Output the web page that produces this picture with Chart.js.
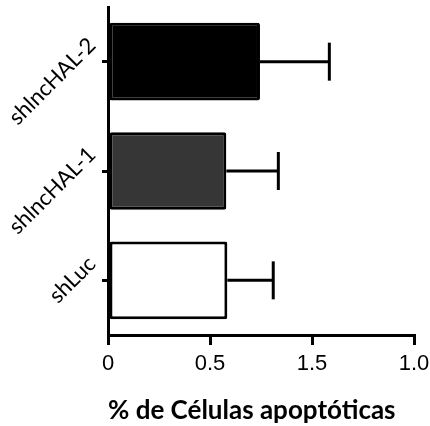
<!DOCTYPE html>
<html>
<head>
<meta charset="utf-8">
<script src="https://cdn.jsdelivr.net/npm/chart.js@4/dist/chart.umd.min.js"></script>
<style>
  html, body { margin: 0; padding: 0; background: #ffffff; }
  #wrap { width: 430px; height: 426px; }
</style>
</head>
<body>
<div id="wrap"><canvas id="c" width="430" height="426"></canvas></div>
<script>
// ---- data ----
const categories = ["shlncHAL-2", "shlncHAL-1", "shLuc"];
const values = [1.49, 1.16, 1.17];          // bar ends, in axis-tick units
const errors = [0.68, 0.51, 0.45];          // error-bar lengths, same units
const xTickLabels = ["0", "0.5", "1.5", "1.0"];
const xTitle = "% de Células apoptóticas";

const barColors = ["#000000", "#363636", "#ffffff"];

const errorBars = {
  id: 'errorBars',
  afterDatasetsDraw(chart) {
    const meta = chart.getDatasetMeta(0);
    const xs = chart.scales.x;
    const ctx = chart.ctx;
    ctx.save();
    ctx.strokeStyle = '#000';
    ctx.lineWidth = 3;
    ctx.lineCap = 'butt';
    meta.data.forEach((bar, i) => {
      const x0 = bar.x;
      const x1 = xs.getPixelForValue(values[i] + errors[i]);
      const y = bar.y;
      ctx.beginPath();
      ctx.moveTo(x0, y);
      ctx.lineTo(x1, y);
      ctx.stroke();
      ctx.beginPath();
      ctx.moveTo(x1, y - 19);
      ctx.lineTo(x1, y + 19);
      ctx.stroke();
    });
    ctx.restore();
  }
};

const yLabelShift = [-20, -27, -14];

new Chart(document.getElementById('c'), {
  type: 'bar',
  data: {
    labels: categories,
    datasets: [{
      data: values,
      backgroundColor: barColors,
      borderColor: '#000000',
      borderWidth: 3,
      borderSkipped: false,
      borderRadius: 2,
      categoryPercentage: 1.0,
      barPercentage: 0.71
    }]
  },
  options: {
    indexAxis: 'y',
    responsive: false,
    animation: false,
    devicePixelRatio: 1,
    layout: { padding: { top: 7, right: 16, left: 0, bottom: 0 } },
    plugins: { legend: { display: false }, tooltip: { enabled: false } },
    scales: {
      x: {
        type: 'linear',
        min: 0,
        max: 3,
        afterFit(s) { s.height = 91; s.paddingLeft = 0; s.paddingRight = 0; },
        afterBuildTicks(s) { s.ticks = xTickLabels.map((_, i) => ({ value: i })); },
        ticks: {
          callback: (v, i) => xTickLabels[i],
          color: '#000',
          font: { family: 'Liberation Sans, Arial, sans-serif', size: 22 },
          padding: 6,
          maxRotation: 0,
          minRotation: 0
        },
        grid: {
          display: true,
          drawOnChartArea: false,
          drawTicks: true,
          tickLength: 10,
          color: '#000',
          lineWidth: 3
        },
        border: { display: true, color: '#000', width: 3 },
        title: {
          display: true,
          text: xTitle,
          align: 'start',
          color: '#000',
          font: { family: 'Lato, sans-serif', size: 26, weight: 'bold' },
          padding: { top: 0, bottom: 0 }
        }
      },
      y: {
        type: 'category',
        offset: true,
        afterFit(s) { s.width = 108; s.paddingTop = 0; s.paddingBottom = 0; },
        ticks: {
          color: '#000',
          font: { family: 'Lato, sans-serif', size: 22 },
          minRotation: 45,
          maxRotation: 45,
          padding: 10,
          labelOffset: (ctx) => yLabelShift[ctx.index] ?? -20
        },
        grid: {
          display: true,
          drawOnChartArea: false,
          drawTicks: true,
          tickLength: 6,
          color: '#000',
          lineWidth: 3,
          offset: false
        },
        border: { display: true, color: '#000', width: 3 }
      }
    }
  },
  plugins: [errorBars]
});
</script>
</body>
</html>
